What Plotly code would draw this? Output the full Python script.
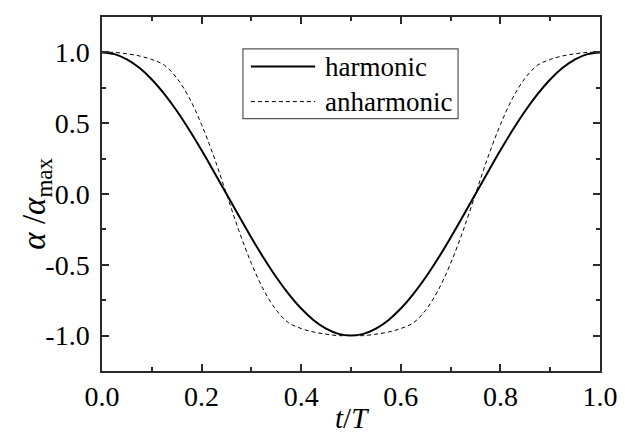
import plotly.graph_objects as go

# time in units of the period, t/T
t_values = [0.000, 0.025, 0.050, 0.075, 0.100, 0.125, 0.150, 0.175, 0.200, 0.225,
            0.250, 0.275, 0.300, 0.325, 0.350, 0.375, 0.400, 0.425, 0.450, 0.475,
            0.500, 0.525, 0.550, 0.575, 0.600, 0.625, 0.650, 0.675, 0.700, 0.725,
            0.750, 0.775, 0.800, 0.825, 0.850, 0.875, 0.900, 0.925, 0.950, 0.975,
            1.000]

harmonic = [1.000, 0.988, 0.951, 0.891, 0.809, 0.707, 0.588, 0.454, 0.309, 0.156,
            0.000, -0.156, -0.309, -0.454, -0.588, -0.707, -0.809, -0.891, -0.951, -0.988,
            -1.000, -0.988, -0.951, -0.891, -0.809, -0.707, -0.588, -0.454, -0.309, -0.156,
            0.000, 0.156, 0.309, 0.454, 0.588, 0.707, 0.809, 0.891, 0.951, 0.988,
            1.000]

anharmonic = [1.00, 1.00, 0.99, 0.975, 0.95, 0.91, 0.82, 0.68, 0.49, 0.26,
              0.00, -0.26, -0.49, -0.68, -0.82, -0.91, -0.95, -0.975, -0.99, -1.00,
              -1.00, -1.00, -0.99, -0.975, -0.95, -0.91, -0.82, -0.68, -0.49, -0.26,
              0.00, 0.26, 0.49, 0.68, 0.82, 0.91, 0.95, 0.975, 0.99, 1.00,
              1.00]

series_names = ["harmonic", "anharmonic"]

x_tick_vals = [0.0, 0.2, 0.4, 0.6, 0.8, 1.0]
x_tick_text = ["0.0", "0.2", "0.4", "0.6", "0.8", "1.0"]
y_tick_vals = [-1.0, -0.5, 0.0, 0.5, 1.0]
y_tick_text = ["-1.0", "-0.5", "0.0", "0.5", "1.0"]

FONT = "Liberation Serif"
AXIS_COLOR = "#2a2a2a"
solid_style = dict(color="black", width=2)
dash_style = dict(color="black", width=1, dash="4px,3px")

fig = go.Figure()
fig.add_trace(go.Scatter(x=t_values, y=harmonic, mode="lines", name=series_names[0],
                         line=dict(shape="spline", **solid_style), showlegend=False))
fig.add_trace(go.Scatter(x=t_values, y=anharmonic, mode="lines", name=series_names[1],
                         line=dict(shape="spline", **dash_style), showlegend=False))

axis_common = dict(
    showline=True, linecolor=AXIS_COLOR, linewidth=1.5, mirror="allticks",
    ticks="inside", ticklen=7, tickwidth=1.5, tickcolor=AXIS_COLOR,
    showgrid=False, zeroline=False,
    tickfont=dict(family=FONT, size=28, color="black"),
)

# legend box drawn in paper coordinates (long sample lines as in the reference)
legend_box = dict(x0=0.283, x1=0.715, y0=0.713, y1=0.910)
legend_rows_y = [0.860, 0.761]
legend_line_x = [0.299, 0.428]
legend_text_x = 0.4436

shapes = [dict(type="rect", xref="paper", yref="paper", layer="above",
               fillcolor="white", line=dict(color="#555555", width=1.2), **legend_box)]
for yy, st in zip(legend_rows_y, [solid_style, dash_style]):
    shapes.append(dict(type="line", xref="paper", yref="paper", layer="above",
                       x0=legend_line_x[0], x1=legend_line_x[1], y0=yy, y1=yy, line=st))

annotations = [dict(text=name, xref="paper", yref="paper", x=legend_text_x, y=yy,
                    xanchor="left", yanchor="middle", showarrow=False,
                    font=dict(family=FONT, size=27, color="black"))
               for name, yy in zip(series_names, legend_rows_y)]
annotations.append(dict(text="<i>t</i>/<i>T</i>", xref="paper", yref="paper",
                        x=0.503, y=-0.132, xanchor="center", yanchor="middle",
                        showarrow=False, font=dict(family=FONT, size=29, color="black")))
annotations.append(dict(text="<i>α</i> /<i>α</i><sub>max</sub>", xref="paper", yref="paper",
                        x=-0.131, y=0.472, xanchor="center", yanchor="middle", textangle=-90,
                        showarrow=False, font=dict(family=FONT, size=33, color="black")))

# the page body adds an 8px margin, so the figure is 8px smaller than the window
fig.update_layout(
    width=617, height=428,
    margin=dict(l=94, r=18, t=7, b=65),
    paper_bgcolor="white", plot_bgcolor="white",
    font=dict(family=FONT, color="black"),
    xaxis=dict(
        range=[0, 1], tickvals=x_tick_vals, ticktext=x_tick_text,
        minor=dict(dtick=0.1, ticks="inside", ticklen=4, tickwidth=1.5, tickcolor=AXIS_COLOR),
        ticklabelstandoff=0,
        **axis_common,
    ),
    yaxis=dict(
        range=[-1.25, 1.25], tickvals=y_tick_vals, ticktext=y_tick_text,
        minor=dict(dtick=0.25, tick0=0, ticks="inside", ticklen=4, tickwidth=1.5, tickcolor=AXIS_COLOR),
        ticklabelstandoff=5,
        **axis_common,
    ),
    shapes=shapes,
    annotations=annotations,
    showlegend=False,
)

fig.write_html("out.html")
